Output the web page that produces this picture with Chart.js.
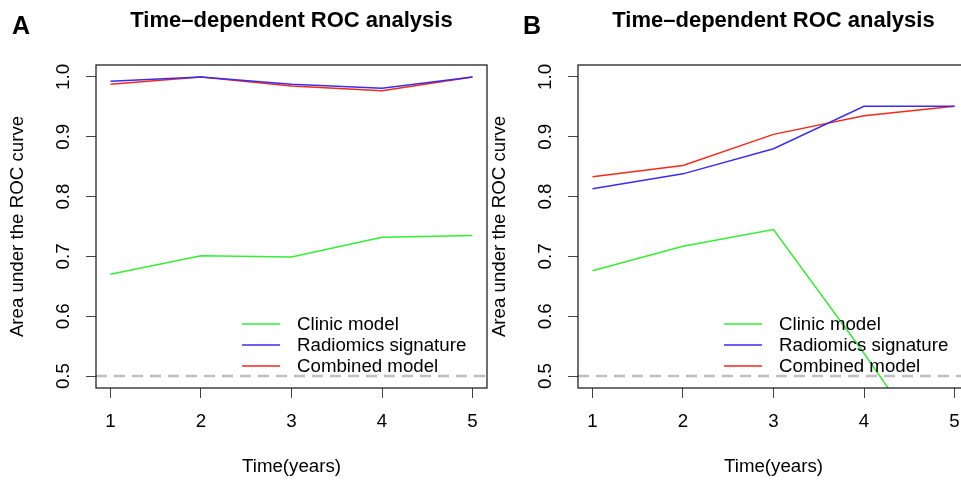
<!DOCTYPE html>
<html><head><meta charset="utf-8">
<script src="https://cdn.jsdelivr.net/npm/chart.js@4/dist/chart.umd.min.js"></script>
<style>
html,body{margin:0;padding:0;background:#fff;overflow:hidden;width:961px;height:482px;}
#wrap{position:relative;width:961px;height:482px;overflow:hidden;background:#fff;}
canvas{position:absolute;top:0;}
</style></head><body>
<div id="wrap">
<canvas id="cA" width="492" height="482" style="left:0px"></canvas>
<canvas id="cB" width="492" height="482" style="left:482px"></canvas>
</div>
<script>
const years = [1, 2, 3, 4, 5];
const seriesNames = ['Clinic model', 'Radiomics signature', 'Combined model'];
const clinicA    = [0.670, 0.701, 0.699, 0.732, 0.735];
const radiomicsA = [0.993, 1.000, 0.988, 0.981, 1.000];
const combinedA  = [0.988, 1.000, 0.985, 0.977, 1.000];
const clinicB    = [0.676, 0.717, 0.745, 0.538, 0.320];
const radiomicsB = [0.813, 0.838, 0.880, 0.951, 0.951];
const combinedB  = [0.833, 0.852, 0.904, 0.935, 0.951];
const xTicks = [1, 2, 3, 4, 5];
const yTicks = [0.5, 0.6, 0.7, 0.8, 0.9, 1.0];
const refLine = 0.5;
const panelLetters = ['A', 'B'];
const titleText = 'Time\u2013dependent ROC analysis';
const xTitle = 'Time(years)';
const yTitle = 'Area under the ROC curve';

const FONT = '"Liberation Sans", Arial, Helvetica, sans-serif';
const FS = 18.7;
const colors = ['#33ee33', '#3b2cf2', '#f22a1a'];

const rPlot = {
  id: 'rPlot',
  beforeDatasetsDraw(chart) {
    const {ctx, chartArea: a, scales: {y}} = chart;
    const py = y.getPixelForValue(refLine);
    ctx.save();
    ctx.beginPath(); ctx.rect(a.left, a.top, a.width, a.height); ctx.clip();
    ctx.strokeStyle = '#bfbfbf'; ctx.lineWidth = 2.5; ctx.setLineDash([11, 7]);
    ctx.beginPath(); ctx.moveTo(a.left, py); ctx.lineTo(a.right, py); ctx.stroke();
    ctx.restore();
  },
  afterDraw(chart, args, opts) {
    const {ctx, chartArea: a} = chart;
    ctx.save();
    ctx.strokeStyle = '#222'; ctx.lineWidth = 1.3;
    ctx.strokeRect(a.left, a.top, a.width, a.height);
    ctx.fillStyle = '#000';
    ctx.textBaseline = 'alphabetic';
    ctx.font = 'bold 22px ' + FONT; ctx.textAlign = 'center';
    ctx.fillText(titleText, (a.left + a.right) / 2, 27);
    ctx.font = 'bold 25px ' + FONT; ctx.textAlign = 'left';
    ctx.fillText(opts.letter, opts.letterX, 34);
    // legend
    ctx.font = FS + 'px ' + FONT; ctx.textBaseline = 'middle';
    const offs = [64, 43, 22];
    chart.data.datasets.forEach((ds, i) => {
      const yy = a.bottom - offs[i];
      ctx.strokeStyle = ds.borderColor; ctx.lineWidth = 1.5;
      ctx.beginPath(); ctx.moveTo(a.right - 245, yy); ctx.lineTo(a.right - 207, yy); ctx.stroke();
      ctx.fillText(ds.label, a.right - 190, yy + 1);
    });
    ctx.restore();
  }
};

function makeChart(id, letter, letterX, series) {
  return new Chart(document.getElementById(id), {
    type: 'line',
    data: {
      datasets: series.map((arr, i) => ({
        label: seriesNames[i],
        data: years.map((x, k) => ({x: x, y: arr[k]})),
        borderColor: colors[i],
        borderWidth: 1.5,
        pointRadius: 0,
        tension: 0,
        fill: false
      }))
    },
    options: {
      responsive: false,
      animation: false,
      events: [],
      layout: {padding: {top: 65, right: 5, bottom: 0, left: 0}},
      plugins: {legend: {display: false}, tooltip: {enabled: false}, title: {display: false},
        rPlot: {letter: letter, letterX: letterX}},
      scales: {
        x: {
          type: 'linear', min: 0.84, max: 5.16,
          afterBuildTicks: s => { s.ticks = xTicks.map(v => ({value: v})); },
          afterFit: s => { s.height = 94; },
          grid: {drawOnChartArea: false, drawTicks: true, tickLength: 10, color: '#444', lineWidth: 1},
          border: {display: false},
          ticks: {color: '#000', font: {family: FONT, size: FS}, padding: 13, maxRotation: 0, minRotation: 0,
            callback: v => String(v)},
          title: {display: true, text: xTitle, color: '#000', font: {family: FONT, size: FS}, padding: {top: 0, bottom: 4}}
        },
        y: {
          type: 'linear', min: 0.48, max: 1.02,
          afterBuildTicks: s => { s.ticks = yTicks.map(v => ({value: v})); },
          afterFit: s => { s.width = 96; },
          grid: {drawOnChartArea: false, drawTicks: true, tickLength: 10, color: '#444', lineWidth: 1},
          border: {display: false},
          ticks: {color: '#000', font: {family: FONT, size: FS}, padding: 9, minRotation: 90, maxRotation: 90,
            crossAlign: 'center', callback: v => v.toFixed(1)},
          title: {display: true, text: yTitle, color: '#000', font: {family: FONT, size: FS}, padding: {top: 7, bottom: 0}}
        }
      }
    },
    plugins: [rPlot]
  });
}

makeChart('cA', panelLetters[0], 12, [clinicA, radiomicsA, combinedA]);
makeChart('cB', panelLetters[1], 41, [clinicB, radiomicsB, combinedB]);
</script>
</body></html>
